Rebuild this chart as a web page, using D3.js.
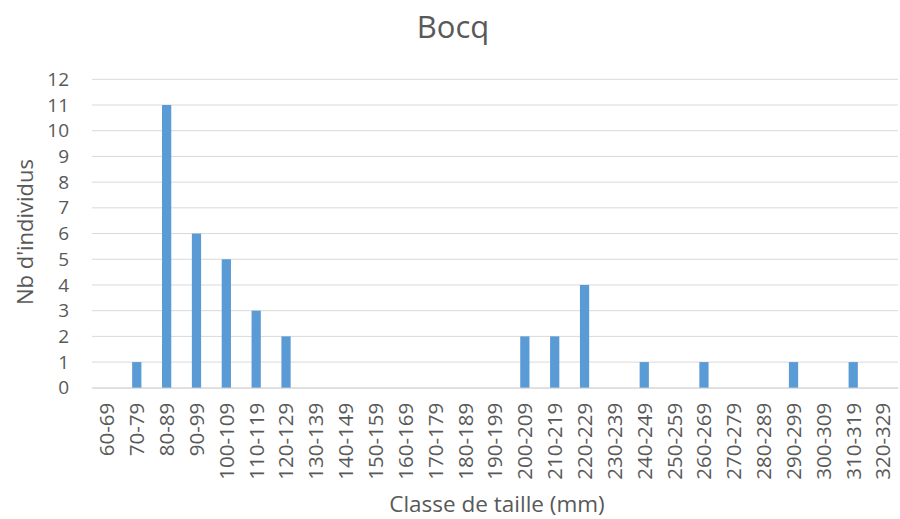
<!DOCTYPE html>
<html><head><meta charset="utf-8">
<script src="https://cdn.jsdelivr.net/npm/d3@7"></script>
<style>body{margin:0;background:#fff}svg{display:block}text{font-family:"Open Sans","Noto Sans",sans-serif;fill:#595959}</style>
</head><body>
<svg id="c" width="900" height="519"></svg>
<script>
const categories = ["60-69","70-79","80-89","90-99","100-109","110-119","120-129","130-139","140-149","150-159","160-169","170-179","180-189","190-199","200-209","210-219","220-229","230-239","240-249","250-259","260-269","270-279","280-289","290-299","300-309","310-319","320-329"];
const values = [0,1,11,6,5,3,2,0,0,0,0,0,0,0,2,2,4,0,1,0,1,0,0,1,0,1,0];
const yTicks = [0,1,2,3,4,5,6,7,8,9,10,11,12];

const svg = d3.select("#c");
const L = 92, R = 898, T = 79.3, B = 387.8;
const FF = '"Open Sans","Noto Sans",sans-serif';
const x = d3.scaleBand().domain(categories).range([L, R]).paddingInner(0.69).paddingOuter(0.345);
const y = d3.scaleLinear().domain([0, 12]).range([B, T]);

svg.append("g").selectAll("line").data(yTicks).join("line")
  .attr("x1", L).attr("x2", R).attr("y1", d => y(d)).attr("y2", d => y(d))
  .attr("stroke", "#d9d9d9").attr("stroke-width", 1);

svg.append("g").selectAll("rect").data(categories).join("rect")
  .attr("x", d => x(d)).attr("width", x.bandwidth())
  .attr("y", (d, i) => y(values[i])).attr("height", (d, i) => B - y(values[i]))
  .attr("fill", "#5B9BD5");

const yAxis = d3.axisLeft(y).tickValues(yTicks).tickSize(0).tickPadding(0);
const gy = svg.append("g").attr("transform", `translate(69,0)`).call(yAxis);
gy.select(".domain").remove();
gy.selectAll("text").style("font-size", "19px").attr("fill", "#595959").style("font-family", FF);

const xAxis = d3.axisBottom(x).tickSize(0).tickPadding(0);
const gx = svg.append("g").attr("transform", `translate(0,${B})`).call(xAxis);
gx.select(".domain").attr("stroke", "#d9d9d9");
gx.selectAll("text").style("font-size", "20.5px").attr("fill", "#595959").style("font-family", FF)
  .attr("transform", "rotate(-90)").attr("text-anchor", "end").attr("x", -15).attr("y", 0).attr("dy", "0.36em");

svg.append("text").attr("x", 453).attr("y", 38).attr("text-anchor", "middle").style("font-size", "31px").text("Bocq");
svg.append("text").attr("transform", `translate(33,232) rotate(-90)`).attr("text-anchor", "middle").style("font-size", "22px").text("Nb d'individus");
svg.append("text").attr("x", 497).attr("y", 512).attr("text-anchor", "middle").style("font-size", "22.5px").text("Classe de taille (mm)");
</script>
</body></html>
